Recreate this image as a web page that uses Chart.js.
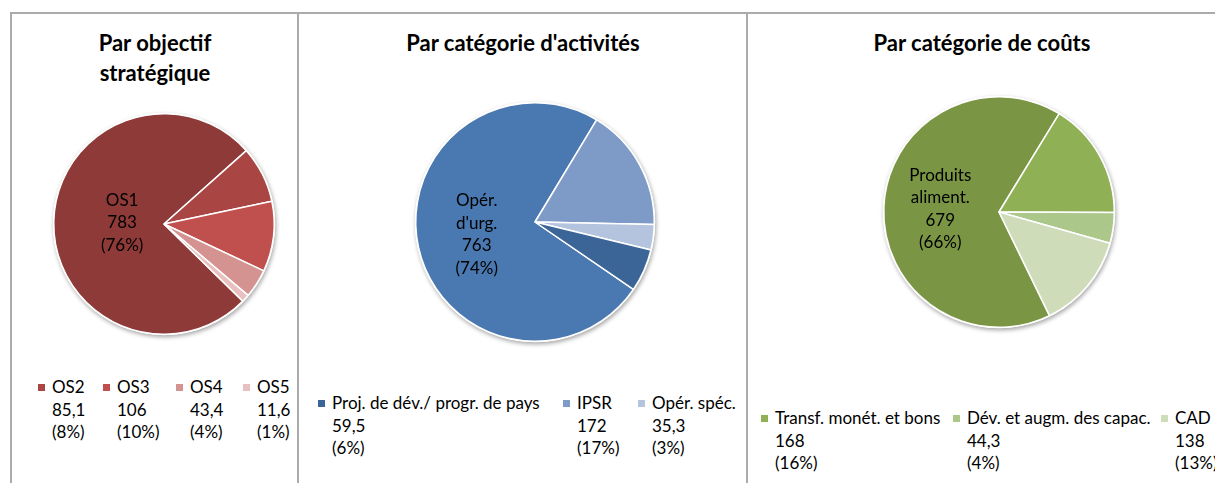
<!DOCTYPE html>
<html>
<head>
<meta charset="utf-8">
<script src="https://cdn.jsdelivr.net/npm/chart.js@4"></script>
<style>
body { margin: 0; width: 1215px; height: 483px; background: #fff; position: relative; overflow: hidden;
       font-family: Lato, "Open Sans", sans-serif; color: #000; }
.panel { position: absolute; top: 12px; height: 480px; border-top: 2px solid #ababab; border-left: 2px solid #ababab; box-sizing: border-box; }
.title { position: absolute; font-weight: bold; font-size: 22px; line-height: 30px; text-align: center; white-space: nowrap; transform: translateX(-50%); }
.pie { position: absolute; }
.leg { position: absolute; font-size: 17px; line-height: 22.5px; white-space: nowrap; }
.leg i { position: absolute; width: 7px; height: 7px; left: -14px; top: 8px; }
</style>
</head>
<body>
<div class="panel" style="left:10px;width:288px"></div>
<div class="panel" style="left:297px;width:451px"></div>
<div class="panel" style="left:746px;width:480px"></div>

<div class="title" style="left:155px;top:28px">Par objectif<br>stratégique</div>
<div class="title" style="left:523px;top:28px">Par catégorie d'activités</div>
<div class="title" style="left:982px;top:28px">Par catégorie de coûts</div>

<canvas id="c1" class="pie" width="238" height="238" style="left:45px;top:105px"></canvas>
<canvas id="c2" class="pie" width="256" height="256" style="left:407px;top:94px"></canvas>
<canvas id="c3" class="pie" width="248" height="248" style="left:875px;top:88px"></canvas>

<div id="legends"></div>

<script>
// Par objectif stratégique
const objLabels = ['OS1', 'OS2', 'OS3', 'OS4', 'OS5'];
const objValues = [783, 85.1, 106, 43.4, 11.6];
const objColors = ['#8e3a38', '#a94542', '#c0504d', '#d49391', '#e7c0bf'];

// Par catégorie d'activités (in drawing order, clockwise)
const actLabels = ["Opér. d'urg.", 'IPSR', 'Opér. spéc.', 'Proj. de dév./ progr. de pays'];
const actValues = [763, 172, 35.3, 59.5];
const actColors = ['#4a78b0', '#7e9bc7', '#b4c4de', '#3b6497'];
const actLegendOrder = [3, 1, 2];

// Par catégorie de coûts
const costLabels = ['Produits aliment.', 'Transf. monét. et bons', 'Dév. et augm. des capac.', 'CAD'];
const costValues = [679, 168, 44.3, 138];
const costColors = ['#7a9544', '#8fb055', '#abc78a', '#cfdcba'];

const fmt = v => String(v).replace('.', ',');
const pct = (v, arr) => Math.round(v / arr.reduce((a, b) => a + b, 0) * 100) + '%';

// soft shadow under the whole pie
const pieShadow = {
  id: 'pieShadow',
  beforeDatasetsDraw(chart) {
    const arc = chart.getDatasetMeta(0).data[0];
    const ctx = chart.ctx;
    ctx.save();
    ctx.shadowColor = 'rgba(0,0,0,0.35)';
    ctx.shadowBlur = 4;
    ctx.shadowOffsetX = 1;
    ctx.shadowOffsetY = 2;
    ctx.fillStyle = '#fff';
    ctx.beginPath();
    ctx.arc(arc.x, arc.y, arc.outerRadius + 1, 0, Math.PI * 2);
    ctx.fill();
    ctx.restore();
  }
};

// label inside the biggest slice
const sliceLabel = {
  id: 'sliceLabel',
  afterDatasetsDraw(chart, args, opts) {
    const ds = chart.data.datasets[0];
    const arc = chart.getDatasetMeta(0).data[0];
    const mid = (arc.startAngle + arc.endAngle) / 2;
    const lx = arc.x + Math.cos(mid) * arc.outerRadius * opts.dist;
    const ly = arc.y + Math.sin(mid) * arc.outerRadius * opts.dist;
    const lines = chart.data.labels[0].split(' ').concat([fmt(ds.data[0]), '(' + pct(ds.data[0], ds.data) + ')']);
    const ctx = chart.ctx;
    ctx.save();
    ctx.font = '17px Lato, "Open Sans", sans-serif';
    ctx.fillStyle = '#000';
    ctx.textAlign = 'center';
    ctx.textBaseline = 'middle';
    lines.forEach((t, i) => ctx.fillText(t, lx, ly + (i - (lines.length - 1) / 2) * 22.5));
    ctx.restore();
  }
};

function makePie(id, labels, values, colors, rotation, dist) {
  return new Chart(document.getElementById(id), {
    type: 'pie',
    data: {
      labels: labels,
      datasets: [{ data: values, backgroundColor: colors, borderColor: '#fff', borderWidth: 1.5 }]
    },
    options: {
      responsive: false,
      animation: false,
      rotation: rotation,
      layout: { padding: 8 },
      plugins: { legend: { display: false }, tooltip: { enabled: false }, sliceLabel: { dist: dist } }
    },
    plugins: [pieShadow, sliceLabel]
  });
}

makePie('c1', objLabels, objValues, objColors, 134.4, 0.38);
makePie('c2', actLabels, actValues, actColors, 124.4, 0.5);
makePie('c3', costLabels, costValues, costColors, 154, 0.51);

// legends under each pie
const legendBox = document.getElementById('legends');
function addLegend(labels, values, colors, order, xs, y) {
  order.forEach((k, i) => {
    const el = document.createElement('div');
    el.className = 'leg';
    el.style.left = xs[i] + 'px';
    el.style.top = (y - 11) + 'px';
    el.innerHTML = '<i style="background:' + colors[k] + '"></i>' + labels[k] + '<br>' +
      fmt(values[k]) + '<br>(' + pct(values[k], values) + ')';
    legendBox.appendChild(el);
  });
}
addLegend(objLabels, objValues, objColors, [1, 2, 3, 4], [52, 117, 190, 257], 387);
addLegend(actLabels, actValues, actColors, actLegendOrder, [332, 577, 652], 403);
addLegend(costLabels, costValues, costColors, [1, 2, 3], [775, 967, 1175], 418);
</script>
</body>
</html>
